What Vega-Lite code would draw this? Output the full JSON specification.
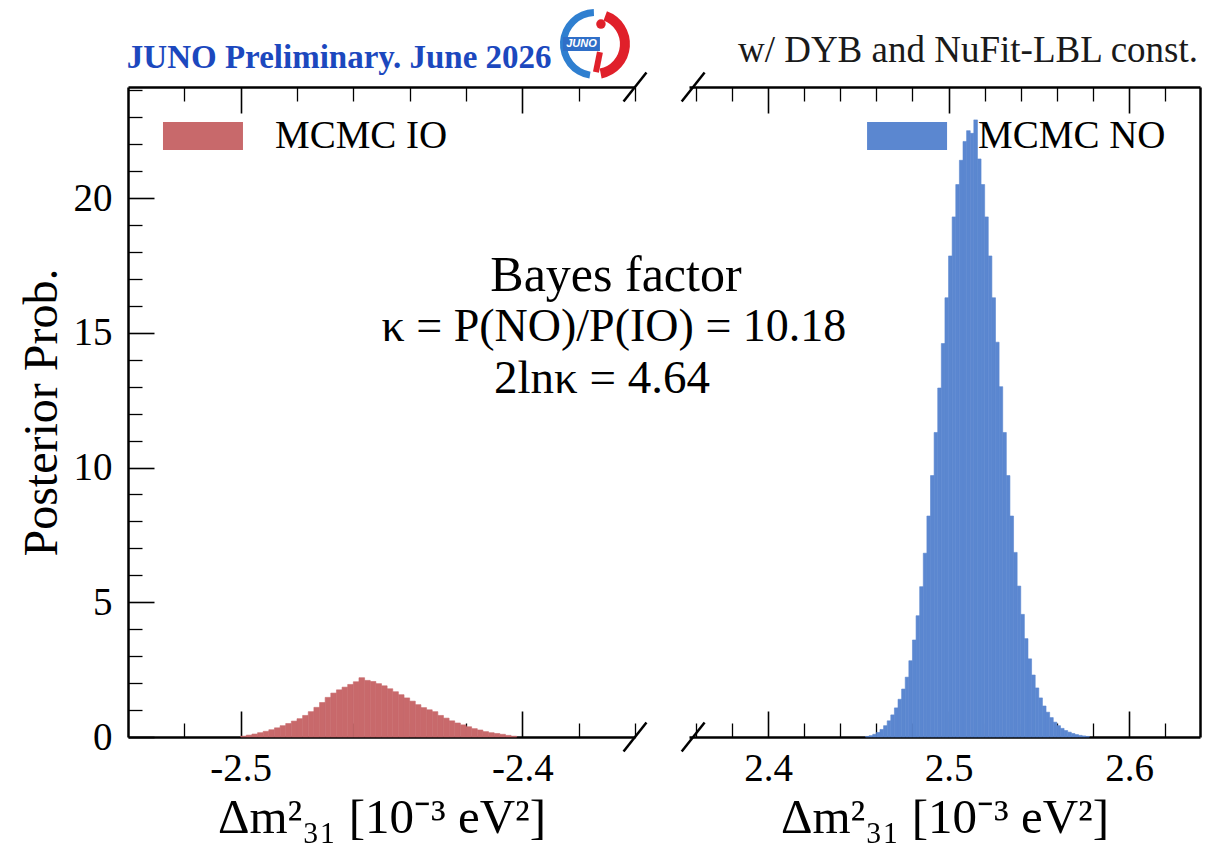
{
  "$schema": "https://vega.github.io/schema/vega-lite/v6.json",
  "width": 1072,
  "height": 650,
  "autosize": {"type": "none"},
  "padding": {"left": 128, "top": 87, "right": 6, "bottom": 119},
  "background": "white",
  "config": {
    "view": {"stroke": null},
    "axis": {"grid": false, "domainColor": "black", "tickColor": "black", "labelColor": "black", "titleColor": "black", "labelFont": "Liberation Serif", "titleFont": "Liberation Serif", "titleFontWeight": "normal", "zindex": 1},
    "text": {"font": "Liberation Serif", "color": "black"}
  },
  "datasets": {
    "io": [
      {"x0": -2.500, "x1": -2.498, "y": 0.03}, {"x0": -2.498, "x1": -2.496, "y": 0.07}, {"x0": -2.496, "x1": -2.494, "y": 0.11},
      {"x0": -2.494, "x1": -2.492, "y": 0.16}, {"x0": -2.492, "x1": -2.490, "y": 0.21}, {"x0": -2.490, "x1": -2.488, "y": 0.27},
      {"x0": -2.488, "x1": -2.486, "y": 0.34}, {"x0": -2.486, "x1": -2.484, "y": 0.42}, {"x0": -2.484, "x1": -2.482, "y": 0.50},
      {"x0": -2.482, "x1": -2.480, "y": 0.59}, {"x0": -2.480, "x1": -2.478, "y": 0.68}, {"x0": -2.478, "x1": -2.476, "y": 0.80},
      {"x0": -2.476, "x1": -2.474, "y": 0.94}, {"x0": -2.474, "x1": -2.472, "y": 1.10}, {"x0": -2.472, "x1": -2.470, "y": 1.28},
      {"x0": -2.470, "x1": -2.468, "y": 1.47}, {"x0": -2.468, "x1": -2.466, "y": 1.63}, {"x0": -2.466, "x1": -2.464, "y": 1.75},
      {"x0": -2.464, "x1": -2.462, "y": 1.85}, {"x0": -2.462, "x1": -2.460, "y": 1.95}, {"x0": -2.460, "x1": -2.458, "y": 2.05},
      {"x0": -2.458, "x1": -2.456, "y": 2.20}, {"x0": -2.456, "x1": -2.454, "y": 2.10}, {"x0": -2.454, "x1": -2.452, "y": 2.06},
      {"x0": -2.452, "x1": -2.450, "y": 1.98}, {"x0": -2.450, "x1": -2.448, "y": 1.90}, {"x0": -2.448, "x1": -2.446, "y": 1.79},
      {"x0": -2.446, "x1": -2.444, "y": 1.68}, {"x0": -2.444, "x1": -2.442, "y": 1.57}, {"x0": -2.442, "x1": -2.440, "y": 1.45},
      {"x0": -2.440, "x1": -2.438, "y": 1.33}, {"x0": -2.438, "x1": -2.436, "y": 1.20}, {"x0": -2.436, "x1": -2.434, "y": 1.09},
      {"x0": -2.434, "x1": -2.432, "y": 1.01}, {"x0": -2.432, "x1": -2.430, "y": 0.94}, {"x0": -2.430, "x1": -2.428, "y": 0.80},
      {"x0": -2.428, "x1": -2.426, "y": 0.70}, {"x0": -2.426, "x1": -2.424, "y": 0.60}, {"x0": -2.424, "x1": -2.422, "y": 0.52},
      {"x0": -2.422, "x1": -2.420, "y": 0.45}, {"x0": -2.420, "x1": -2.418, "y": 0.38}, {"x0": -2.418, "x1": -2.416, "y": 0.31},
      {"x0": -2.416, "x1": -2.414, "y": 0.26}, {"x0": -2.414, "x1": -2.412, "y": 0.20}, {"x0": -2.412, "x1": -2.410, "y": 0.16},
      {"x0": -2.410, "x1": -2.408, "y": 0.13}, {"x0": -2.408, "x1": -2.406, "y": 0.10}, {"x0": -2.406, "x1": -2.404, "y": 0.06},
      {"x0": -2.404, "x1": -2.402, "y": 0.03}
    ],
    "no": [
      {"x0": 2.454, "x1": 2.456, "y": 0.02}, {"x0": 2.456, "x1": 2.458, "y": 0.05}, {"x0": 2.458, "x1": 2.460, "y": 0.10},
      {"x0": 2.460, "x1": 2.462, "y": 0.17}, {"x0": 2.462, "x1": 2.464, "y": 0.28}, {"x0": 2.464, "x1": 2.466, "y": 0.42},
      {"x0": 2.466, "x1": 2.468, "y": 0.60}, {"x0": 2.468, "x1": 2.470, "y": 0.82}, {"x0": 2.470, "x1": 2.472, "y": 1.08},
      {"x0": 2.472, "x1": 2.474, "y": 1.40}, {"x0": 2.474, "x1": 2.476, "y": 1.78}, {"x0": 2.476, "x1": 2.478, "y": 2.22},
      {"x0": 2.478, "x1": 2.480, "y": 2.83}, {"x0": 2.480, "x1": 2.482, "y": 3.60}, {"x0": 2.482, "x1": 2.484, "y": 4.50},
      {"x0": 2.484, "x1": 2.486, "y": 5.58}, {"x0": 2.486, "x1": 2.488, "y": 6.82}, {"x0": 2.488, "x1": 2.490, "y": 8.20},
      {"x0": 2.490, "x1": 2.492, "y": 9.70}, {"x0": 2.492, "x1": 2.494, "y": 11.30}, {"x0": 2.494, "x1": 2.496, "y": 12.95},
      {"x0": 2.496, "x1": 2.498, "y": 14.60}, {"x0": 2.498, "x1": 2.500, "y": 16.30}, {"x0": 2.500, "x1": 2.502, "y": 17.85},
      {"x0": 2.502, "x1": 2.504, "y": 19.30}, {"x0": 2.504, "x1": 2.506, "y": 20.50}, {"x0": 2.506, "x1": 2.508, "y": 21.40},
      {"x0": 2.508, "x1": 2.510, "y": 22.10}, {"x0": 2.510, "x1": 2.512, "y": 22.50}, {"x0": 2.512, "x1": 2.514, "y": 22.40},
      {"x0": 2.514, "x1": 2.516, "y": 22.90}, {"x0": 2.516, "x1": 2.518, "y": 21.45}, {"x0": 2.518, "x1": 2.520, "y": 20.50},
      {"x0": 2.520, "x1": 2.522, "y": 19.30}, {"x0": 2.522, "x1": 2.524, "y": 17.85}, {"x0": 2.524, "x1": 2.526, "y": 16.30},
      {"x0": 2.526, "x1": 2.528, "y": 14.65}, {"x0": 2.528, "x1": 2.530, "y": 13.00}, {"x0": 2.530, "x1": 2.532, "y": 11.30},
      {"x0": 2.532, "x1": 2.534, "y": 9.70}, {"x0": 2.534, "x1": 2.536, "y": 8.20}, {"x0": 2.536, "x1": 2.538, "y": 6.85},
      {"x0": 2.538, "x1": 2.540, "y": 5.60}, {"x0": 2.540, "x1": 2.542, "y": 4.55}, {"x0": 2.542, "x1": 2.544, "y": 3.65},
      {"x0": 2.544, "x1": 2.546, "y": 2.90}, {"x0": 2.546, "x1": 2.548, "y": 2.30}, {"x0": 2.548, "x1": 2.550, "y": 1.82},
      {"x0": 2.550, "x1": 2.552, "y": 1.45}, {"x0": 2.552, "x1": 2.554, "y": 1.15}, {"x0": 2.554, "x1": 2.556, "y": 0.92},
      {"x0": 2.556, "x1": 2.558, "y": 0.72}, {"x0": 2.558, "x1": 2.560, "y": 0.55}, {"x0": 2.560, "x1": 2.562, "y": 0.42},
      {"x0": 2.562, "x1": 2.564, "y": 0.32}, {"x0": 2.564, "x1": 2.566, "y": 0.24}, {"x0": 2.566, "x1": 2.568, "y": 0.18},
      {"x0": 2.568, "x1": 2.570, "y": 0.13}, {"x0": 2.570, "x1": 2.572, "y": 0.09}, {"x0": 2.572, "x1": 2.574, "y": 0.06},
      {"x0": 2.574, "x1": 2.576, "y": 0.04}, {"x0": 2.576, "x1": 2.578, "y": 0.02}
    ]
  },
  "resolve": {"scale": {"x": "independent"}, "axis": {"x": "independent", "y": "independent"}},
  "layer": [
    {
      "resolve": {"axis": {"x": "independent", "y": "independent"}},
      "layer": [
        {
          "data": {"name": "io"},
          "mark": {"type": "rect", "color": "#c8696b", "stroke": "#c8696b", "strokeWidth": 0.6},
          "encoding": {
            "x": {"field": "x0", "type": "quantitative", "scale": {"domain": [-2.54, -2.36], "range": [0, 507], "nice": false, "zero": false},
              "axis": {"orient": "bottom", "values": [-2.5, -2.4], "format": ".1f", "labelExpr": "replace(datum.label, '−', '-')", "ticks": false, "domainWidth": 2.5, "labelFontSize": 39, "labelPadding": 12, "labelFlush": false,
                "title": "Δm²₃₁ [10⁻³ eV²]", "titleFontSize": 49, "titleX": 253.5, "titleY": 80, "titleAlign": "center", "titleBaseline": "middle"}},
            "x2": {"field": "x1"},
            "y": {"field": "y", "type": "quantitative", "scale": {"domain": [0, 24.12], "nice": false, "zero": true},
              "axis": {"orient": "left", "values": [0, 5, 10, 15, 20], "ticks": false, "domainWidth": 2.5, "labelFontSize": 39, "labelPadding": 16,
                "title": "Posterior Prob.", "titleFontSize": 48, "titleAngle": 270, "titleX": -86, "titleY": 325, "titleAlign": "center", "titleBaseline": "middle"}},
            "y2": {"datum": 0}
          }
        },
        {
          "data": {"name": "io"},
          "mark": {"type": "point", "opacity": 0},
          "encoding": {
            "x": {"field": "x0", "type": "quantitative", "axis": {"orient": "bottom", "offset": -26, "values": [-2.5, -2.4], "tickSize": 26, "tickWidth": 1.6, "labels": false, "domain": false, "title": null}},
            "y": {"field": "y", "type": "quantitative", "axis": {"orient": "left", "offset": -26, "values": [0, 5, 10, 15, 20], "tickSize": 26, "tickWidth": 1.6, "labels": false, "domain": false, "title": null}}
          }
        },
        {
          "data": {"name": "io"},
          "mark": {"type": "point", "opacity": 0},
          "encoding": {
            "x": {"field": "x0", "type": "quantitative", "axis": {"orient": "bottom", "offset": -14, "values": [-2.52, -2.48, -2.46, -2.44, -2.42, -2.38, -2.36], "tickSize": 14, "tickWidth": 1.3, "labels": false, "domain": false, "title": null}},
            "y": {"field": "y", "type": "quantitative", "axis": {"orient": "left", "offset": -14, "values": [1, 2, 3, 4, 6, 7, 8, 9, 11, 12, 13, 14, 16, 17, 18, 19, 21, 22, 23, 24], "tickSize": 14, "tickWidth": 1.3, "labels": false, "domain": false, "title": null}}
          }
        },
        {
          "data": {"name": "io"},
          "mark": {"type": "point", "opacity": 0},
          "encoding": {
            "x": {"field": "x0", "type": "quantitative", "axis": {"orient": "top", "offset": -26, "values": [-2.5, -2.4], "tickSize": 26, "tickWidth": 1.6, "labels": false, "domain": false, "title": null}},
            "y": {"field": "y", "type": "quantitative", "axis": null}
          }
        },
        {
          "data": {"name": "io"},
          "mark": {"type": "point", "opacity": 0},
          "encoding": {
            "x": {"field": "x0", "type": "quantitative", "axis": {"orient": "top", "offset": -14, "values": [-2.52, -2.48, -2.46, -2.44, -2.42, -2.38, -2.36], "tickSize": 14, "tickWidth": 1.3, "labels": false, "domain": false, "title": null}},
            "y": {"field": "y", "type": "quantitative", "axis": null}
          }
        },
        {
          "data": {"name": "io"},
          "mark": {"type": "point", "opacity": 0},
          "encoding": {
            "x": {"field": "x0", "type": "quantitative", "axis": {"orient": "top", "ticks": false, "labels": false, "domain": true, "domainWidth": 2.5, "title": null}},
            "y": {"field": "y", "type": "quantitative", "axis": null}
          }
        },
        {
          "data": {"values": [{}]},
          "mark": {"type": "point", "shape": "M-0.79,1L0.79,-1", "size": 841, "filled": false, "color": "black", "strokeWidth": 2.5, "opacity": 1},
          "encoding": {"x": {"datum": -2.36, "type": "quantitative", "axis": null}, "y": {"datum": 0, "type": "quantitative", "axis": null}}
        },
        {
          "data": {"values": [{}]},
          "mark": {"type": "point", "shape": "M-0.79,1L0.79,-1", "size": 841, "filled": false, "color": "black", "strokeWidth": 2.5, "opacity": 1},
          "encoding": {"x": {"datum": -2.36, "type": "quantitative", "axis": null}, "y": {"datum": 24.12, "type": "quantitative", "axis": null}}
        },
        {
          "data": {"values": [{}]},
          "mark": {"type": "rect", "color": "#c8696b"},
          "encoding": {
            "x": {"datum": -2.52758, "type": "quantitative", "axis": null}, "x2": {"datum": -2.49918},
            "y": {"datum": 22.82, "type": "quantitative", "axis": null}, "y2": {"datum": 21.78}
          }
        },
        {
          "data": {"values": [{}]},
          "mark": {"type": "text", "text": "MCMC IO", "fontSize": 39, "align": "left", "baseline": "middle"},
          "encoding": {"x": {"datum": -2.48782, "type": "quantitative", "axis": null}, "y": {"datum": 22.3, "type": "quantitative", "axis": null}}
        },
        {
          "data": {"values": [{}]},
          "mark": {"type": "text", "text": "JUNO Preliminary. June 2026", "fontSize": 33, "fontWeight": "bold", "color": "#1c48be", "align": "left", "baseline": "alphabetic"},
          "encoding": {"x": {"datum": -2.5404, "type": "quantitative", "axis": null}, "y": {"datum": 24.82, "type": "quantitative", "axis": null}}
        },
        {
          "data": {"values": [{}]},
          "mark": {"type": "arc", "radius": 35, "radius2": 28, "theta": 3.3, "theta2": 6.25, "color": "#2f7fd0"},
          "encoding": {"x": {"datum": -2.37422, "type": "quantitative", "axis": null}, "y": {"datum": 25.714, "type": "quantitative", "axis": null}}
        },
        {
          "data": {"values": [{}]},
          "mark": {"type": "arc", "radius": 35, "radius2": 25, "theta": 0.35, "theta2": 2.95, "color": "#e0202a"},
          "encoding": {"x": {"datum": -2.37422, "type": "quantitative", "axis": null}, "y": {"datum": 25.714, "type": "quantitative", "axis": null}}
        },
        {
          "data": {"values": [{}]},
          "mark": {"type": "rect", "color": "#2f6fc8"},
          "encoding": {
            "x": {"datum": -2.38558, "type": "quantitative", "axis": null}, "x2": {"datum": -2.37245},
            "y": {"datum": 25.974, "type": "quantitative", "axis": null}, "y2": {"datum": 25.455}
          }
        },
        {
          "data": {"values": [{}]},
          "mark": {"type": "text", "text": "JUNO", "fontSize": 11, "fontWeight": "bold", "fontStyle": "italic", "color": "white", "align": "center", "baseline": "middle", "font": "Liberation Sans"},
          "encoding": {"x": {"datum": -2.37901, "type": "quantitative", "axis": null}, "y": {"datum": 25.714, "type": "quantitative", "axis": null}}
        },
        {
          "data": {"values": [{}]},
          "mark": {"type": "point", "shape": "circle", "size": 90, "filled": true, "color": "#e0202a", "opacity": 1},
          "encoding": {"x": {"datum": -2.37209, "type": "quantitative", "axis": null}, "y": {"datum": 26.456, "type": "quantitative", "axis": null}}
        },
        {
          "data": {"values": [{}]},
          "mark": {"type": "rule", "color": "#e0202a", "strokeWidth": 6},
          "encoding": {
            "x": {"datum": -2.37245, "type": "quantitative", "axis": null}, "x2": {"datum": -2.37387},
            "y": {"datum": 25.417, "type": "quantitative", "axis": null}, "y2": {"datum": 24.675}
          }
        },
        {
          "data": {"values": [{}]},
          "mark": {"type": "text", "text": "Bayes factor", "fontSize": 50, "align": "center", "baseline": "middle"},
          "encoding": {"x": {"datum": -2.36677, "type": "quantitative", "axis": null}, "y": {"datum": 17.106, "type": "quantitative", "axis": null}}
        },
        {
          "data": {"values": [{}]},
          "mark": {"type": "text", "text": "κ = P(NO)/P(IO) = 10.18", "fontSize": 46, "align": "center", "baseline": "middle"},
          "encoding": {"x": {"datum": -2.36748, "type": "quantitative", "axis": null}, "y": {"datum": 15.2, "type": "quantitative", "axis": null}}
        },
        {
          "data": {"values": [{}]},
          "mark": {"type": "text", "text": "2lnκ = 4.64", "fontSize": 47, "align": "center", "baseline": "middle"},
          "encoding": {"x": {"datum": -2.37174, "type": "quantitative", "axis": null}, "y": {"datum": 13.3, "type": "quantitative", "axis": null}}
        }
      ]
    },
    {
      "resolve": {"axis": {"x": "independent", "y": "independent"}},
      "layer": [
        {
          "data": {"name": "no"},
          "mark": {"type": "rect", "color": "#5b87d0", "stroke": "#5b87d0", "strokeWidth": 0.6},
          "encoding": {
            "x": {"field": "x0", "type": "quantitative", "scale": {"domain": [2.3562, 2.6393], "range": [561, 1072], "nice": false, "zero": false},
              "axis": {"orient": "bottom", "values": [2.4, 2.5, 2.6], "format": ".1f", "ticks": false, "domainWidth": 2.5, "labelFontSize": 39, "labelPadding": 12, "labelFlush": false,
                "title": "Δm²₃₁ [10⁻³ eV²]", "titleFontSize": 49, "titleX": 816.5, "titleY": 80, "titleAlign": "center", "titleBaseline": "middle"}},
            "x2": {"field": "x1"},
            "y": {"field": "y", "type": "quantitative", "scale": {"domain": [0, 24.12], "nice": false, "zero": true},
              "axis": {"orient": "right", "ticks": false, "labels": false, "domain": true, "domainWidth": 2.5, "title": null}},
            "y2": {"datum": 0}
          }
        },
        {
          "data": {"name": "no"},
          "mark": {"type": "point", "opacity": 0},
          "encoding": {
            "x": {"field": "x0", "type": "quantitative", "axis": {"orient": "bottom", "offset": -26, "values": [2.4, 2.5, 2.6], "tickSize": 26, "tickWidth": 1.6, "labels": false, "domain": false, "title": null}},
            "y": {"field": "y", "type": "quantitative", "axis": null}
          }
        },
        {
          "data": {"name": "no"},
          "mark": {"type": "point", "opacity": 0},
          "encoding": {
            "x": {"field": "x0", "type": "quantitative", "axis": {"orient": "bottom", "offset": -14, "values": [2.36, 2.38, 2.42, 2.44, 2.46, 2.48, 2.52, 2.54, 2.56, 2.58, 2.62], "tickSize": 14, "tickWidth": 1.3, "labels": false, "domain": false, "title": null}},
            "y": {"field": "y", "type": "quantitative", "axis": null}
          }
        },
        {
          "data": {"name": "no"},
          "mark": {"type": "point", "opacity": 0},
          "encoding": {
            "x": {"field": "x0", "type": "quantitative", "axis": {"orient": "top", "offset": -26, "values": [2.4, 2.5, 2.6], "tickSize": 26, "tickWidth": 1.6, "labels": false, "domain": false, "title": null}},
            "y": {"field": "y", "type": "quantitative", "axis": null}
          }
        },
        {
          "data": {"name": "no"},
          "mark": {"type": "point", "opacity": 0},
          "encoding": {
            "x": {"field": "x0", "type": "quantitative", "axis": {"orient": "top", "offset": -14, "values": [2.36, 2.38, 2.42, 2.44, 2.46, 2.48, 2.52, 2.54, 2.56, 2.58, 2.62], "tickSize": 14, "tickWidth": 1.3, "labels": false, "domain": false, "title": null}},
            "y": {"field": "y", "type": "quantitative", "axis": null}
          }
        },
        {
          "data": {"name": "no"},
          "mark": {"type": "point", "opacity": 0},
          "encoding": {
            "x": {"field": "x0", "type": "quantitative", "axis": {"orient": "top", "ticks": false, "labels": false, "domain": true, "domainWidth": 2.5, "title": null}},
            "y": {"field": "y", "type": "quantitative", "axis": null}
          }
        },
        {
          "data": {"values": [{}]},
          "mark": {"type": "point", "shape": "M-0.79,1L0.79,-1", "size": 841, "filled": false, "color": "black", "strokeWidth": 2.5, "opacity": 1},
          "encoding": {"x": {"datum": 2.3585, "type": "quantitative", "axis": null}, "y": {"datum": 0, "type": "quantitative", "axis": null}}
        },
        {
          "data": {"values": [{}]},
          "mark": {"type": "point", "shape": "M-0.79,1L0.79,-1", "size": 841, "filled": false, "color": "black", "strokeWidth": 2.5, "opacity": 1},
          "encoding": {"x": {"datum": 2.3585, "type": "quantitative", "axis": null}, "y": {"datum": 24.12, "type": "quantitative", "axis": null}}
        },
        {
          "data": {"values": [{}]},
          "mark": {"type": "rect", "color": "#5b87d0"},
          "encoding": {
            "x": {"datum": 2.45485, "type": "quantitative", "axis": null}, "x2": {"datum": 2.49917},
            "y": {"datum": 22.82, "type": "quantitative", "axis": null}, "y2": {"datum": 21.78}
          }
        },
        {
          "data": {"values": [{}]},
          "mark": {"type": "text", "text": "MCMC NO", "fontSize": 39, "align": "left", "baseline": "middle"},
          "encoding": {"x": {"datum": 2.51634, "type": "quantitative", "axis": null}, "y": {"datum": 22.3, "type": "quantitative", "axis": null}}
        },
        {
          "data": {"values": [{}]},
          "mark": {"type": "text", "text": "w/ DYB and NuFit-LBL const.", "fontSize": 37, "align": "right", "baseline": "alphabetic", "color": "#1a1a1a"},
          "encoding": {"x": {"datum": 2.6382, "type": "quantitative", "axis": null}, "y": {"datum": 25.05, "type": "quantitative", "axis": null}}
        }
      ]
    }
  ]
}
